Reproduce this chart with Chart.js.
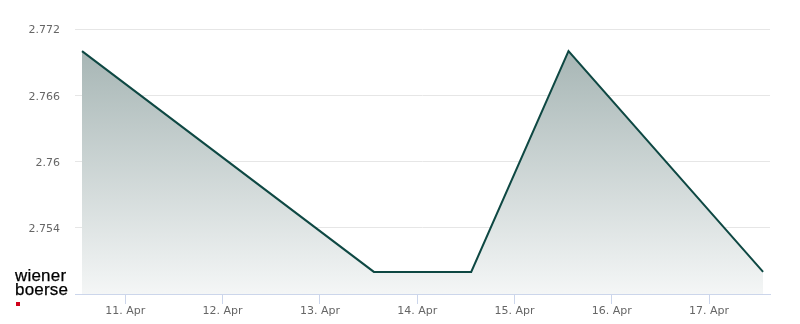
<!DOCTYPE html>
<html>
<head>
<meta charset="utf-8">
<script src="https://cdn.jsdelivr.net/npm/chart.js@4"></script>
<style>
html,body{margin:0;padding:0;background:#fff;}
#wrap{position:relative;width:800px;height:324px;}
#logo{position:absolute;left:15px;top:269px;font-family:"Liberation Sans",Arial,sans-serif;font-size:17px;line-height:13.5px;color:#000;letter-spacing:0.2px;-webkit-text-stroke:0.25px #000;}
#logo .sq{display:block;width:4px;height:4px;background:#d0021b;margin-top:6px;margin-left:1px;}
</style>
</head>
<body>
<div id="wrap">
<canvas id="c" width="800" height="324"></canvas>
<div id="logo">wiener<br>boerse<span class="sq"></span></div>
</div>
<script>
// Data (day of April incl. time-of-day fraction of the quote)
const dayOfApril = [10.555, 13.555, 14.555, 15.555, 17.555];
const prices = [2.770, 2.750, 2.750, 2.770, 2.750];
const xTickDays = [11, 12, 13, 14, 15, 16, 17];
const yTickValues = [2.748, 2.754, 2.76, 2.766, 2.772];
const monthLabel = 'Apr';

const points = dayOfApril.map((d, i) => ({x: d, y: prices[i]}));

new Chart(document.getElementById('c'), {
  type: 'line',
  data: {
    datasets: [{
      data: points,
      borderColor: '#0e4843',
      borderWidth: 2,
      pointRadius: 0,
      tension: 0,
      fill: 'start',
      backgroundColor: (ctx) => {
        const ch = ctx.chart;
        const area = ch.chartArea;
        if (!area) return 'rgba(0,0,0,0)';
        const top = ch.scales.y.getPixelForValue(Math.max(...prices));
        const g = ch.ctx.createLinearGradient(0, top, 0, area.bottom);
        g.addColorStop(0, '#a7b6b5');
        g.addColorStop(1, '#f4f6f6');
        return g;
      }
    }]
  },
  options: {
    responsive: false,
    animation: false,
    layout: {padding: {top: 29, right: 30, left: 0, bottom: 0}},
    plugins: {legend: {display: false}, tooltip: {enabled: false}},
    scales: {
      x: {
        type: 'linear',
        min: 10.483,
        max: 17.626,
        afterBuildTicks: (s) => { s.ticks = xTickDays.map(v => ({value: v})); },
        afterFit: (s) => { s.height = 30; },
        ticks: {
          callback: (v) => v + '. ' + monthLabel,
          color: '#666666',
          font: {family: 'DejaVu Sans', size: 11},
          padding: 1,
          maxRotation: 0,
          autoSkip: false
        },
        grid: {drawOnChartArea: false, drawTicks: true, tickLength: 10, color: '#ccd6eb', lineWidth: 1},
        border: {display: true, color: '#ccd6eb', width: 1}
      },
      y: {
        min: 2.748,
        max: 2.772,
        afterBuildTicks: (s) => { s.ticks = yTickValues.map(v => ({value: v})); },
        afterFit: (s) => { s.width = 75; },
        ticks: {
          callback: (v) => v === yTickValues[0] ? '' : String(v),
          color: '#666666',
          font: {family: 'DejaVu Sans', size: 11},
          padding: 15,
          labelOffset: 1.5
        },
        grid: {
          drawTicks: false,
          color: (ctx) => ctx.tick && ctx.tick.value === yTickValues[0] ? 'rgba(0,0,0,0)' : '#e6e6e6',
          lineWidth: 1
        },
        border: {display: false}
      }
    }
  }
});
</script>
</body>
</html>
